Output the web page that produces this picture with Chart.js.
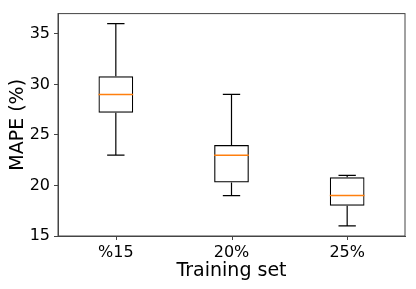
<!DOCTYPE html>
<html>
<head>
<meta charset="utf-8">
<script src="https://cdn.jsdelivr.net/npm/chart.js@4"></script>
<style>
  html, body { margin: 0; padding: 0; background: #fff; }
  #wrap { width: 416px; height: 289px; }
</style>
</head>
<body>
<div id="wrap"><canvas id="boxChart"></canvas></div>
<script>
// box plot values
const categories = ["%15", "20%", "25%"];
const whiskerLow = [23.0, 19.0, 16.0];
const q1 = [27.2, 20.3, 18.0];
const median = [29.0, 23.0, 19.0];
const q3 = [30.8, 24.0, 20.8];
const whiskerHigh = [36.0, 29.0, 21.0];
const yTicks = [15, 20, 25, 30, 35];

// whiskers, caps, medians, x tick marks and the frame
const boxExtras = {
  id: "boxExtras",
  afterDatasetsDraw(chart) {
    const { ctx, chartArea, scales } = chart;
    const x = scales.x, y = scales.y;
    const meta = chart.getDatasetMeta(0);
    ctx.save();
    meta.data.forEach((bar, i) => {
      const cx = x.getPixelForValue(i);
      const half = bar.width / 2;
      const capHalf = half / 2;
      const yLo = y.getPixelForValue(whiskerLow[i]);
      const yHi = y.getPixelForValue(whiskerHigh[i]);
      const yQ1 = y.getPixelForValue(q1[i]);
      const yQ3 = y.getPixelForValue(q3[i]);
      const yMed = y.getPixelForValue(median[i]);
      ctx.strokeStyle = "#000";
      ctx.lineWidth = 1.2;
      ctx.beginPath();
      ctx.moveTo(cx, yQ3); ctx.lineTo(cx, yHi);
      ctx.moveTo(cx - capHalf, yHi); ctx.lineTo(cx + capHalf, yHi);
      ctx.moveTo(cx, yQ1); ctx.lineTo(cx, yLo);
      ctx.moveTo(cx - capHalf, yLo); ctx.lineTo(cx + capHalf, yLo);
      ctx.stroke();
      ctx.strokeStyle = "#ff7f0e";
      ctx.lineWidth = 1.5;
      ctx.beginPath();
      ctx.moveTo(cx - half, yMed); ctx.lineTo(cx + half, yMed);
      ctx.stroke();
      // tick mark under the category
      ctx.strokeStyle = "#444";
      ctx.lineWidth = 1;
      ctx.beginPath();
      ctx.moveTo(Math.round(cx) + 0.5, chartArea.bottom);
      ctx.lineTo(Math.round(cx) + 0.5, chartArea.bottom + 4);
      ctx.stroke();
    });
    ctx.strokeStyle = "#444";
    ctx.lineWidth = 1;
    ctx.strokeRect(chartArea.left, chartArea.top, chartArea.right - chartArea.left, chartArea.bottom - chartArea.top);
    ctx.restore();
  }
};

const ctx = document.getElementById("boxChart").getContext("2d");

new Chart(ctx, {
  type: "bar",
  data: {
    labels: categories,
    datasets: [
      {
        label: "MAPE",
        data: categories.map((c, i) => [q1[i], q3[i]]),
        backgroundColor: "rgba(255,255,255,0)",
        borderColor: "#000",
        borderWidth: 1.2,
        borderSkipped: false,
        categoryPercentage: 1.0,
        barPercentage: 0.3,
      },
    ],
  },
  options: {
    responsive: true,
    maintainAspectRatio: false,
    animation: false,
    layout: { padding: { top: 11, right: 11, left: 0, bottom: 0 } },
    plugins: {
      legend: { display: false },
      tooltip: { enabled: false },
    },
    scales: {
      x: {
        grid: { display: false, tickLength: 4 },
        border: { display: true, color: "#444" },
        ticks: { color: "#000", padding: 3, font: { family: "DejaVu Sans", size: 16 } },
        title: {
          display: true,
          text: "Training set",
          color: "#000",
          font: { family: "DejaVu Sans", size: 19 },
          padding: { top: 4, bottom: 7 },
        },
        afterFit(scale) { scale.height = 53; },
      },
      y: {
        min: 15,
        max: 37,
        afterBuildTicks(scale) { scale.ticks = yTicks.map(v => ({ value: v })); },
        grid: { drawOnChartArea: false, drawTicks: true, tickLength: 4, color: "#444" },
        border: { display: true, color: "#444" },
        ticks: { color: "#000", padding: 4, font: { family: "DejaVu Sans", size: 16 } },
        title: {
          display: true,
          text: "MAPE (%)",
          color: "#000",
          font: { family: "DejaVu Sans", size: 19 },
          padding: { top: 7, bottom: 4 },
        },
        afterFit(scale) { scale.width = 58; },
      },
    },
  },
  plugins: [boxExtras],
});
</script>
</body>
</html>
